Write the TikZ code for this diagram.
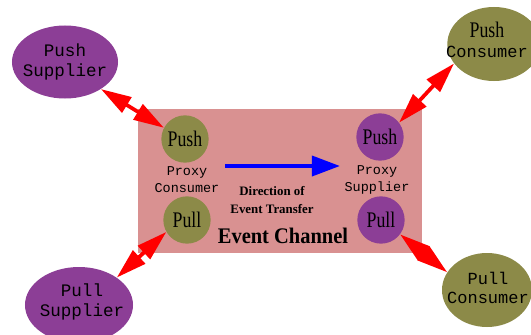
\documentclass[tikz,border=0pt]{standalone}
\usepackage{fontspec}
\setmainfont{Liberation Serif}
\setmonofont{Liberation Mono}
\usepackage{tikz}
\usetikzlibrary{arrows.meta,shapes.geometric,positioning}
\definecolor{chanpink}{RGB}{217,145,145}
\definecolor{evpurple}{RGB}{140,62,150}
\definecolor{evolive}{RGB}{140,138,72}
\newcommand{\cnd}[1]{\scalebox{0.8}[1]{#1}}

\begin{document}
\begin{tikzpicture}[x=0.03cm,y=-0.03cm]
\tikzstyle{party}=[ellipse,inner sep=0pt]
\tikzstyle{partytext}=[align=center,font=\ttfamily\fontsize{15}{17}\selectfont]
\tikzstyle{proxy}=[circle,minimum size=1.42cm,inner sep=0pt,font=\fontsize{19}{20}\selectfont]
\tikzstyle{plabel}=[align=center,font=\ttfamily\fontsize{11.5}{14.5}\selectfont]
\tikzstyle{link}=[red,line width=3.2pt,{Triangle[length=26pt,width=15pt]}-{Triangle[length=26pt,width=15pt]}]
\useasboundingbox (0,0) rectangle (531,334);
\clip (0,0) rectangle (531,334);
\fill[white] (0,0) rectangle (531,334);
% event channel
\node (chan) [fill=chanpink,minimum width=8.52cm,minimum height=4.32cm] at (280,181) {};
\node (pushpc) [proxy,fill=evolive] at (185,139) {\cnd{Push}};
\node (pullpc) [proxy,fill=evolive] at (187,220) {\cnd{Pull}};
\node (pushps) [proxy,fill=evpurple] at (380,137) {\cnd{Push}};
\node (pullps) [proxy,fill=evpurple] at (381,220) {\cnd{Pull}};
\node (pclabel) [plabel] at (187,180) {Proxy\\Consumer};
\node (pslabel) [plabel] at (377,180) {Proxy\\Supplier};
\node (dirlabel) [align=center,font=\bfseries\fontsize{11}{15}\selectfont] at (272,200) {Direction of\\Event Transfer};
\node (chanlabel) [font=\bfseries\fontsize{19}{20}\selectfont] at (283,236) {\scalebox{0.92}[1]{Event Channel}};
\coordinate (dirA) at (225,166);
\coordinate (dirB) at (340,166);
\draw[blue,line width=3.4pt,-{Triangle[length=24pt,width=17pt]}] (dirA) -- (dirB);
% suppliers and consumers
\node (pushsup) [party,fill=evpurple,minimum width=3.18cm,minimum height=2.19cm] at (65,62) {};
\node [partytext] at (pushsup) {Push\\Supplier};
\node (pullsup) [party,fill=evpurple,minimum width=3.24cm,minimum height=2.28cm] at (79,305) {};
\node [partytext] at (82,302) {Pull\\Supplier};
\node (pushcon) [party,fill=evolive,minimum width=2.8cm,minimum height=2.22cm] at (494,44) {};
\node [partytext,font=\ttfamily\fontsize{14.5}{17}\selectfont] at (487,40) {{\rmfamily\fontsize{19}{19}\selectfont\cnd{Push}}\\Consumer};
\node (pullcon) [party,fill=evolive,minimum width=2.7cm,minimum height=2.22cm] at (487,290) {};
\node [partytext,font=\ttfamily\fontsize{14.5}{16}\selectfont] at (488,288) {Pull\\Consumer};
% connections
\draw[link] (pushsup.323) -- (pushpc.152);
\draw[link] (pushps.37) -- (pushcon.206);
\draw[link] (pullpc.210) -- (pullsup.36);
\draw[link] (pullps.323) -- (pullcon.156);
\end{tikzpicture}
\end{document}
